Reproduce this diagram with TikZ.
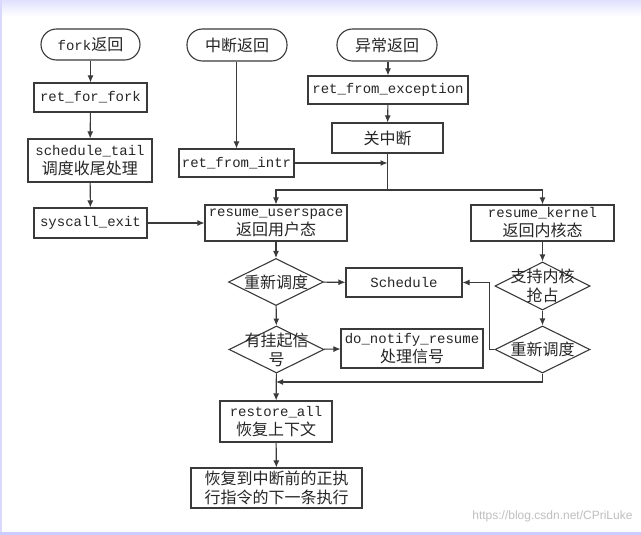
\documentclass[tikz,border=0pt]{standalone}
\usepackage{fontspec}
\setmonofont{Liberation Mono}
\newfontfamily\cjk{Noto Sans CJK SC}
\usetikzlibrary{shapes.geometric,arrows.meta}
\newcommand{\en}[1]{{\ttfamily\fontsize{14}{18}\selectfont #1}}
\definecolor{ln}{HTML}{3A3A3A}
\tikzset{
  cjkfont/.style={font=\cjk\fontsize{16}{19}\selectfont},
  base/.style={draw=ln, line width=1.1pt, inner sep=0pt, align=center,
    cjkfont, text=black!85},
  boxn/.style={base, rectangle},
  term/.style={base, rectangle, rounded corners=15.5pt},
  dia/.style={base, diamond, minimum width=95pt, minimum height=47pt},
  dlab/.style={cjkfont, align=center, text=black!85, inner sep=0pt},
  con/.style={draw=ln, line width=1.1pt, -{Latex[length=7pt,width=6pt]}},
  lin/.style={draw=ln, line width=1.1pt},
}
\begin{document}
\begin{tikzpicture}[x=1pt,y=-1pt]
\useasboundingbox (0,0) rectangle (641,535);
\fill[white] (0,0) rectangle (641,535);
\shade[top color=blue!12, bottom color=white] (0,0) rectangle (641,16);
\fill[blue!15] (0,0) rectangle (2,535);
\fill[blue!20] (0,532) rectangle (641,535);
% terminals
\node[term, minimum width=99pt, minimum height=31pt] (t1) at (90.5,44.5) {\en{fork}返回};
\node[term, minimum width=100pt, minimum height=32pt] (t2) at (237,45) {中断返回};
\node[term, minimum width=100pt, minimum height=32pt] (t3) at (387,45) {异常返回};
% left column
\node[boxn, minimum width=113pt, minimum height=29pt] (b1) at (90.5,97.5) {\en{ret\_for\_fork}};
\node[boxn, minimum width=124pt, minimum height=43pt] (b2) at (90,160.5) {\en{schedule\_tail}\\调度收尾处理};
\node[boxn, minimum width=113pt, minimum height=30pt] (b3) at (90.5,223) {\en{syscall\_exit}};
% middle
\node[boxn, minimum width=115pt, minimum height=28pt] (b4) at (236.5,163) {\en{ret\_from\_intr}};
\node[boxn, minimum width=160pt, minimum height=28pt] (b5) at (388,90) {\en{ret\_from\_exception}};
\node[boxn, minimum width=111pt, minimum height=30pt] (b6) at (387.5,138) {关中断};
\node[boxn, minimum width=142pt, minimum height=36pt] (ru) at (276,223) {\en{resume\_userspace}\\返回用户态};
\node[boxn, minimum width=143pt, minimum height=36pt] (rk) at (542.5,223) {\en{resume\_kernel}\\返回内核态};
% decisions
\node[dia, label={[dlab]center:重新调度}] (d1) at (276,282) {};
\node[boxn, minimum width=116pt, minimum height=29pt] (sch) at (404,282.5) {\en{Schedule}};
\node[dia, label={[dlab]center:有挂起信\\号}] (d2) at (276.5,349.5) {};
\node[boxn, minimum width=142pt, minimum height=39pt] (dn) at (412,348.5) {\en{do\_notify\_resume}\\处理信号};
\node[dia, minimum height=48pt, label={[dlab]center:支持内核\\抢占}] (d3) at (542.5,286) {};
\node[dia, label={[dlab]center:重新调度}] (d4) at (542.5,349.5) {};
% bottom
\node[boxn, minimum width=112pt, minimum height=41pt] (ra) at (276,421.5) {\en{restore\_all}\\恢复上下文};
\node[boxn, minimum width=171pt, minimum height=40pt] (fin) at (276.5,488) {恢复到中断前的正执\\行指令的下一条执行};
% coordinates
\coordinate (J) at (387.5,163);
\coordinate (S) at (387.5,190);
\coordinate (M) at (276,382);
% connectors
\draw[con] (t1) -- (b1);
\draw[con] (b1) -- (b2);
\draw[con] (b2) -- (b3);
\draw[con] (b3) -- (ru);
\draw[con] (t2.south -| b4.north) -- (b4.north);
\draw[con] (t3.south -| b5.north) -- (b5.north);
\draw[con] (b5) -- (b6);
\draw[con] (b4) -- (J);
\draw[lin] (b6.south) -- (S);
\draw[con] (S) -| (ru.north);
\draw[con] (S) -| (rk.north);
\draw[con] (ru) -- (d1);
\draw[con] (d1) -- (sch);
\draw[con] (d1) -- (d2);
\draw[con] (d2) -- (dn);
\draw[con] (d2) -- (ra);
\draw[con] (d4.south) |- (M);
\draw[con] (rk) -- (d3);
\draw[con] (d3) -- (d4);
\draw[con] (d4.west) -- ++(-5,0) |- (sch.east);
\draw[con] (ra) -- (fin);
\node[font=\fontspec{Liberation Sans}\fontsize{12}{14}\selectfont, text=black!25, anchor=east] (wm) at (636,516) {https://blog.csdn.net/CPriLuke};
\end{tikzpicture}
\end{document}
